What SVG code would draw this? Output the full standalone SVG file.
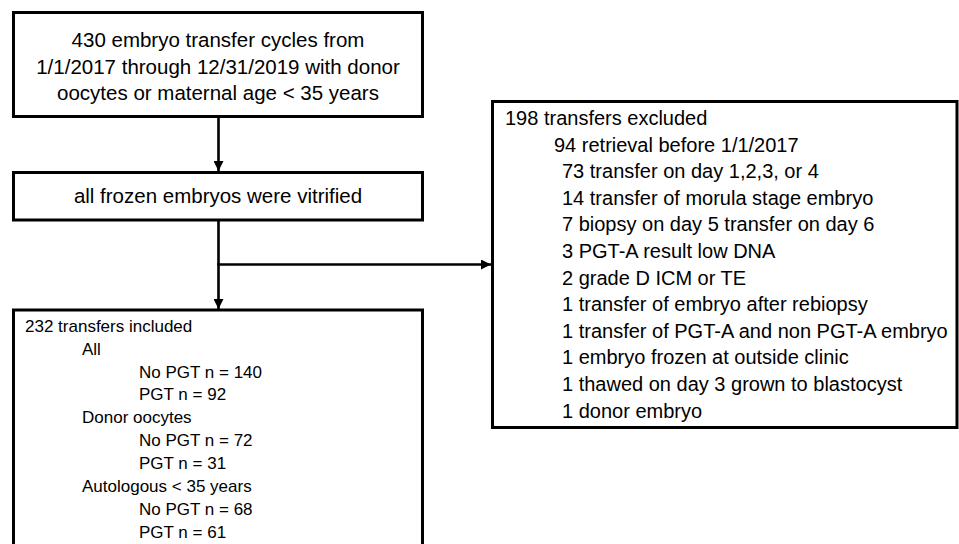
<svg xmlns="http://www.w3.org/2000/svg" width="959" height="544" viewBox="0 0 959 544">
<style>
.box{fill:#fff;stroke:#000;stroke-width:3}
.t{font-family:"Liberation Sans",Arial,sans-serif;fill:#000}
.c{text-anchor:middle;font-size:20.5px}
.r{font-size:20px}
.l{font-size:17px}
.edge{stroke:#000;stroke-width:2.6;fill:none}
</style>
<defs>
<marker id="ah" viewBox="0 0 10 10" refX="10" refY="5" markerWidth="10" markerHeight="10" markerUnits="userSpaceOnUse" orient="auto">
<path d="M0,0 L10,5 L0,10 z" fill="#000"/>
</marker>
</defs>
<rect width="959" height="544" fill="#fff"/>
<g id="connectors">
<line class="edge" x1="218.5" y1="117" x2="218.5" y2="171" marker-end="url(#ah)"/>
<line class="edge" x1="218.5" y1="221" x2="218.5" y2="309" marker-end="url(#ah)"/>
<line class="edge" x1="217.2" y1="264.5" x2="491" y2="264.5" marker-end="url(#ah)"/>
</g>
<g id="n_start">
<rect class="box" x="13.5" y="12.5" width="409" height="104"/>
<text class="t c" x="218" y="47">430 embryo transfer cycles from</text>
<text class="t c" x="218" y="73.5">1/1/2017 through 12/31/2019 with donor</text>
<text class="t c" x="218" y="100">oocytes or maternal age &lt; 35 years</text>
</g>
<g id="n_vitrified">
<rect class="box" x="13.5" y="172.5" width="409" height="47.5"/>
<text class="t c" x="218" y="203">all frozen embryos were vitrified</text>
</g>
<g id="n_excluded">
<rect class="box" x="492.5" y="101.5" width="464.5" height="326"/>
<text class="t r" x="505" y="125">198 transfers excluded</text>
<text class="t r" x="554" y="151.6">94 retrieval before 1/1/2017</text>
<text class="t r" x="562" y="178.2">73 transfer on day 1,2,3, or 4</text>
<text class="t r" x="562" y="204.8">14 transfer of morula stage embryo</text>
<text class="t r" x="562" y="231.4">7 biopsy on day 5 transfer on day 6</text>
<text class="t r" x="562" y="258">3 PGT-A result low DNA</text>
<text class="t r" x="562" y="284.6">2 grade D ICM or TE</text>
<text class="t r" x="562" y="311.2">1 transfer of embryo after rebiopsy</text>
<text class="t r" x="562" y="337.8">1 transfer of PGT-A and non PGT-A embryo</text>
<text class="t r" x="562" y="364.4">1 embryo frozen at outside clinic</text>
<text class="t r" x="562" y="391">1 thawed on day 3 grown to blastocyst</text>
<text class="t r" x="562" y="417.6">1 donor embryo</text>
</g>
<g id="n_included">
<rect class="box" x="13.5" y="310" width="409" height="260"/>
<text class="t l" x="25" y="331.7">232 transfers included</text>
<text class="t l" x="82" y="354.6">All</text>
<text class="t l" x="139" y="377.5">No PGT n = 140</text>
<text class="t l" x="139" y="400.4">PGT n = 92</text>
<text class="t l" x="82" y="423.3">Donor oocytes</text>
<text class="t l" x="139" y="446.2">No PGT n = 72</text>
<text class="t l" x="139" y="469.1">PGT n = 31</text>
<text class="t l" x="82" y="492">Autologous &lt; 35 years</text>
<text class="t l" x="139" y="514.9">No PGT n = 68</text>
<text class="t l" x="139" y="537.8">PGT n = 61</text>
</g>
</svg>
